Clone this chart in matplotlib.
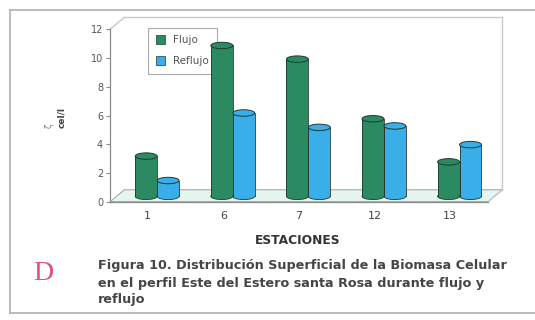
import matplotlib
matplotlib.use("Agg")
import matplotlib.pyplot as plt
from matplotlib.patches import Rectangle, Ellipse, Polygon, Patch
from matplotlib.lines import Line2D

estaciones = ["1", "6", "7", "12", "13"]
flujo = [2.8, 10.5, 9.55, 5.4, 2.4]
reflujo = [1.1, 5.8, 4.8, 4.9, 3.6]
y_ticks = [0, 2, 4, 6, 8, 10, 12]

c_flujo = "#2b8a62"
c_reflujo = "#3aaee8"
edge = "#1f3a33"

W, H = 535, 320
fig = plt.figure(figsize=(W / 100, H / 100), dpi=100)
fig.patch.set_facecolor("white")

def fx(px):
    return px / W

def fy(py):
    return 1 - py / H

# outer frame of the figure panel
for xs, ys in [((10, 535), (10, 10)), ((10, 10), (10, 313)), ((10, 535), (313, 313))]:
    fig.add_artist(Line2D([fx(xs[0]), fx(xs[1])], [fy(ys[0]), fy(ys[1])],
                          color="#b0b0b0", lw=1.2, transform=fig.transFigure))

left, bottom = fx(110), fy(201.7)
ax = fig.add_axes([left, bottom, fx(488) - left, fy(29.3) - bottom])
ax.set_xlim(0, 5)
ax.set_ylim(0, 12)
ax.set_facecolor("none")

# depth of the pseudo-3D box (data units)
dx, dy = 0.19, 0.83
wall = "#c8c8c8"
floor = Polygon([(0, 0), (5, 0), (5 + dx, dy), (dx, dy)], closed=True,
                facecolor="#e6f5ef", edgecolor="#9ab0a8", lw=0.8, clip_on=False, zorder=1)
ax.add_patch(floor)
for (x0, y0), (x1, y1) in [((0, 12), (dx, 12 + dy)), ((dx, 12 + dy), (5 + dx, 12 + dy)),
                           ((5 + dx, 12 + dy), (5 + dx, dy)), ((5, 0), (5 + dx, dy))]:
    ax.add_line(Line2D([x0, x1], [y0, y1], color=wall, lw=1.0, clip_on=False, zorder=1))

# cylinders
bw = 0.29
eh = 0.45
base = dy * 0.45
shift = dx * 0.65

def cylinder(cx, value, color):
    top = base + value
    ax.add_patch(Ellipse((cx, base), bw, eh, facecolor=color, edgecolor=edge,
                         lw=0.6, zorder=3, clip_on=False))
    ax.add_patch(Rectangle((cx - bw / 2, base), bw, value, facecolor=color,
                           edgecolor="none", zorder=3, clip_on=False))
    ax.add_line(Line2D([cx - bw / 2] * 2, [base, top], color=edge, lw=0.6, zorder=4))
    ax.add_line(Line2D([cx + bw / 2] * 2, [base, top], color=edge, lw=0.6, zorder=4))
    ax.add_patch(Ellipse((cx, top), bw, eh, facecolor=color, edgecolor=edge,
                         lw=0.7, zorder=5, clip_on=False))

for i, (f, r) in enumerate(zip(flujo, reflujo)):
    c = i + 0.5 + shift
    cylinder(c - bw / 2, f, c_flujo)
    cylinder(c + bw / 2, r, c_reflujo)

for s in ("top", "right"):
    ax.spines[s].set_visible(False)
for s in ("left", "bottom"):
    ax.spines[s].set_color("#8a8a8a")
    ax.spines[s].set_linewidth(0.9)

ax.set_yticks(y_ticks)
ax.set_yticklabels([str(v) for v in y_ticks], fontsize=7, color="#555555")
ax.set_xticks([i + 0.5 for i in range(len(estaciones))])
ax.set_xticklabels(estaciones, fontsize=8, color="#444444")
ax.tick_params(axis="y", length=3, width=0.8, color="#8a8a8a", pad=2)
ax.tick_params(axis="x", length=0, pad=7)

leg = ax.legend(handles=[Patch(facecolor=c_flujo, edgecolor=edge, lw=0.5, label="Flujo"),
                         Patch(facecolor=c_reflujo, edgecolor=edge, lw=0.5, label="Reflujo")],
                loc="upper left", bbox_to_anchor=(0.088, 1.04), fontsize=7.5,
                handlelength=0.9, handleheight=0.9, labelspacing=1.1,
                borderpad=0.7, fancybox=False, framealpha=1, edgecolor="#aaaaaa")
leg.get_frame().set_linewidth(0.8)
leg.set_zorder(2)
for t in leg.get_texts():
    t.set_color("#555555")

fig.text(fx(62), fy(118), "cel/l", rotation=90, fontsize=6.5, fontweight="bold",
         color="#444444", ha="center", va="center")
fig.text(fx(49), fy(126), "ζ", rotation=90, fontsize=6, color="#777777",
         ha="center", va="center")

fig.text(fx(298), fy(241), "ESTACIONES", fontsize=8.8, fontweight="bold",
         color="#333333", ha="center", va="center")
fig.text(fx(43), fy(273), "D", fontsize=20, family="Liberation Serif",
         color="#e0507a", ha="center", va="center")

caption = ["Figura 10. Distribución Superficial de la Biomasa Celular",
           "en el perfil Este del Estero santa Rosa durante flujo y",
           "reflujo"]
for k, line in enumerate(caption):
    fig.text(fx(98), fy(266 + 17 * k), line, fontsize=9.2, fontweight="bold",
             color="#454545", ha="left", va="center")

fig.savefig("out.png", dpi=100, facecolor="white")
